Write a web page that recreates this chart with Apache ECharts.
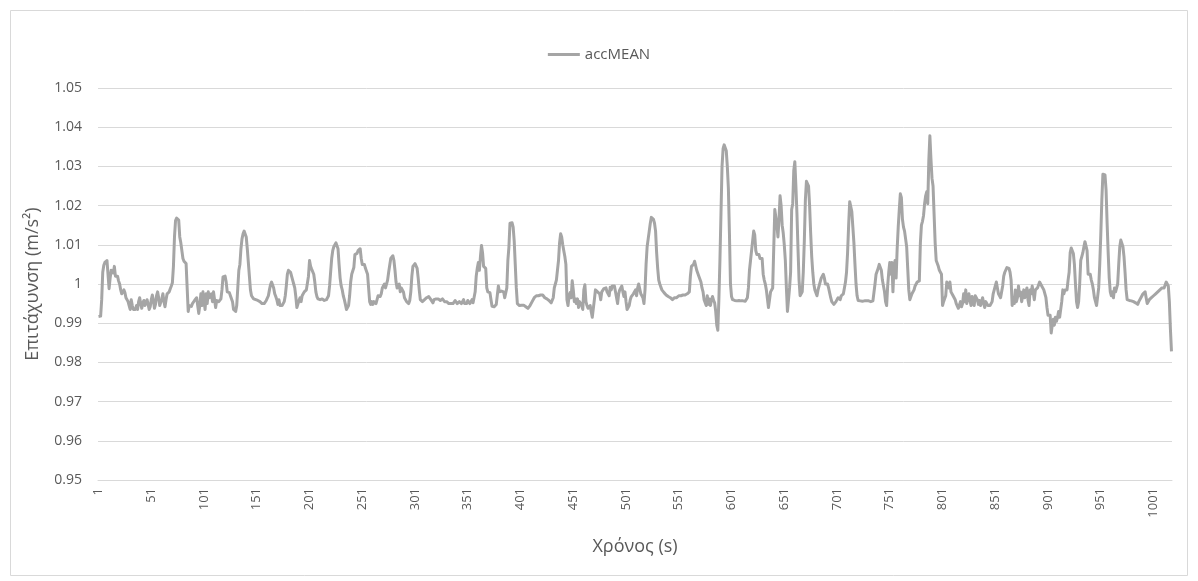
<!DOCTYPE html>
<html>
<head>
<meta charset="utf-8">
<script src="https://cdn.jsdelivr.net/npm/echarts@6/dist/echarts.min.js"></script>
<style>
  html, body { margin: 0; padding: 0; background: #fff; }
  #main { width: 1198px; height: 581px; }
</style>
</head>
<body>
<div id="main"></div>
<script>
// accMEAN per sample (1 .. 1018)
var accMean = [
  0.9917, 0.9916, 0.9918, 0.996, 1.003, 1.0048, 1.0055, 1.0052, 1.006, 1.0065,
  0.9988, 1.0015, 1.0035, 1.004, 1.0028, 1.0045, 1.002, 1.0025, 1.002, 1.0008,
  1.0, 0.9985, 0.9975, 0.9972, 0.9985, 0.9978, 0.9965, 0.9962, 0.9955, 0.9945,
  0.9935, 0.996, 0.9945, 0.9935, 0.9933, 0.9935, 0.9945, 0.9935, 0.9955, 0.9965,
  0.995, 0.9938, 0.9952, 0.9958, 0.9945, 0.9952, 0.996, 0.9948, 0.9935, 0.9942,
  0.996, 0.9972, 0.9958, 0.9938, 0.9948, 0.997, 0.998, 0.9965, 0.9945, 0.9945,
  0.9962, 0.9975, 0.9955, 0.9942, 0.996, 0.9975, 0.997, 0.998, 0.9988, 0.9995,
  1.0003, 1.0045, 1.012, 1.0162, 1.0168, 1.0168, 1.0163, 1.012, 1.0105, 1.0102,
  1.0065, 1.0058, 1.0055, 1.0052, 1.005, 0.993, 0.9945, 0.994, 0.9943, 0.995,
  0.9955, 0.9958, 0.996, 0.9965, 0.997, 0.9925, 0.9945, 0.9975, 0.9945, 0.998,
  0.996, 0.9935, 0.9975, 0.995, 0.998, 0.9965, 0.996, 0.9975, 0.9955, 0.998,
  0.996, 0.994, 0.9958, 0.9962, 0.9955, 0.995, 0.9962, 0.9985, 1.0018, 1.002,
  1.002, 1.0005, 0.998, 0.9975, 0.9978, 0.997, 0.9972, 0.9955, 0.9935, 0.9933,
  0.993, 0.9945, 0.999, 1.0035, 1.005, 1.009, 1.0115, 1.0128, 1.0135, 1.0138,
  1.012, 1.009, 1.0055, 1.002, 0.9985, 0.997, 0.9965, 0.9962, 0.9962, 0.996,
  0.996, 0.9958, 0.9958, 0.9955, 0.9955, 0.995, 0.9948, 0.995, 0.9955, 0.9958,
  0.9962, 0.997, 0.9985, 0.9998, 1.0005, 1.0005, 0.999, 0.9975, 0.9968, 0.996,
  0.9948, 0.996, 0.9945, 0.995, 0.9945, 0.995, 0.9955, 0.997, 0.9995, 1.0025,
  1.0035, 1.0038, 1.003, 1.0025, 1.001, 1.0, 0.999, 0.9968, 0.994, 0.9945,
  0.9958, 0.9965, 0.9955, 0.997, 0.9975, 0.998, 0.9982, 0.9985, 0.999, 1.002,
  1.006, 1.0045, 1.0038, 1.004, 1.0025, 1.0005, 0.998, 0.9968, 0.9962, 0.9962,
  0.996, 0.996, 0.9962, 0.996, 0.9958, 0.996, 0.996, 0.9962, 0.997, 0.9995,
  1.003, 1.0065, 1.0085, 1.0095, 1.01, 1.0105, 1.0106, 1.009, 1.005, 1.0015,
  0.9995, 0.9985, 0.997, 0.996, 0.9948, 0.9935, 0.993, 0.9945, 0.997, 1.0005,
  1.0025, 1.0025, 1.0042, 1.0075, 1.008, 1.0078, 1.0085, 1.0088, 1.009, 1.0065,
  1.005, 1.0045, 1.005, 1.004, 1.0038, 1.0025, 0.999, 0.9955, 0.9948, 0.9955,
  0.9948, 0.9955, 0.9958, 0.995, 0.996, 0.997, 0.9975, 0.9968, 0.9975, 0.999,
  0.9985, 1.0, 0.999, 0.9995, 1.001, 1.003, 1.0048, 1.0065, 1.007, 1.0072,
  1.006, 1.0035, 1.0005, 0.999, 0.9995, 1.0, 0.998, 0.999, 0.9995, 0.998,
  0.9965, 0.996, 0.9955, 0.9952, 0.995, 0.9958, 0.998, 1.002, 1.0045, 1.005,
  1.0052, 1.0048, 1.004, 1.0015, 0.9985, 0.996, 0.9955, 0.9955, 0.9955, 0.996,
  0.9962, 0.9965, 0.9962, 0.9968, 0.9965, 0.996, 0.9955, 0.9952, 0.996, 0.9962,
  0.9962, 0.9965, 0.9962, 0.996, 0.9958, 0.996, 0.9962, 0.996, 0.9955, 0.9952,
  0.9955, 0.9952, 0.995, 0.9945, 0.995, 0.9948, 0.995, 0.9955, 0.9958, 0.9955,
  0.995, 0.995, 0.9955, 0.9958, 0.995, 0.9955, 0.996, 0.995, 0.9955, 0.995,
  0.9958, 0.9955, 0.995, 0.9955, 0.996, 0.9952, 0.9955, 0.998, 1.002, 1.004,
  1.0055, 1.0035, 1.007, 1.0098, 1.008, 1.0045, 1.0042, 1.004, 0.999, 0.998,
  0.9975, 0.9978, 0.996, 0.9943, 0.994, 0.9942, 0.994, 0.9948, 0.9945, 0.9995,
  0.998, 0.9985, 0.9982, 0.9982, 0.998, 0.9965, 0.997, 0.999, 1.006, 1.0095,
  1.0155, 1.0157, 1.0156, 1.0145, 1.011, 1.005, 0.999, 0.995, 0.9945, 0.9945,
  0.9945, 0.9946, 0.9945, 0.9946, 0.9944, 0.9942, 0.9942, 0.9938, 0.994, 0.9945,
  0.995, 0.9955, 0.996, 0.9965, 0.9968, 0.997, 0.9972, 0.997, 0.9972, 0.9972,
  0.997, 0.9972, 0.9968, 0.9965, 0.9962, 0.9962, 0.996, 0.9958, 0.9955, 0.9952,
  0.9955, 0.9965, 0.999, 1.0, 1.001, 1.0035, 1.006, 1.0105, 1.0128, 1.012,
  1.01, 1.0085, 1.007, 1.005, 0.996, 0.9945, 0.997, 0.9978, 0.9965, 1.0008,
  0.9985, 0.9955, 0.9962, 0.995, 0.9962, 0.994, 0.9955, 0.995, 0.9945, 0.9935,
  0.9985, 0.9998, 0.9955, 0.9945, 0.9938, 0.994, 0.9945, 0.993, 0.9915, 0.992,
  0.996, 0.9985, 0.999, 0.998, 0.9985, 0.9975, 0.996, 0.998, 0.998, 0.9988,
  0.9985, 0.999, 0.998, 0.9985, 0.997, 0.9992, 0.9985, 0.9995, 0.999, 0.9995,
  0.998, 0.9985, 0.995, 0.9975, 0.9985, 0.998, 0.9995, 0.998, 0.9968, 0.998,
  0.9955, 0.9935, 0.993, 0.9945, 0.996, 0.9968, 0.9965, 0.9975, 0.9978, 0.9985,
  0.997, 0.999, 1.0, 0.9995, 0.9975, 0.998, 0.9965, 0.995, 0.9985, 1.005,
  1.0095, 1.0115, 1.0135, 1.0155, 1.017, 1.0175, 1.0165, 1.0155, 1.0135, 1.008,
  1.004, 1.001, 1.0, 0.9992, 0.9985, 0.998, 0.9978, 0.9975, 0.9972, 0.997,
  0.9968, 0.9965, 0.9965, 0.9962, 0.996, 0.996, 0.9965, 0.9963, 0.9965, 0.9968,
  0.997, 0.9972, 0.997, 0.9972, 0.9972, 0.9975, 0.9972, 0.9973, 0.9975, 0.9975,
  0.998, 1.002, 1.0045, 1.0048, 1.005, 1.0058, 1.0062, 1.0035, 1.003, 1.002,
  1.0025, 1.0005, 0.999, 0.998, 0.996, 0.9965, 0.9945, 0.997, 0.9948, 0.9962,
  0.9945, 0.996, 0.9968, 0.9958, 0.9952, 0.993, 0.9895, 0.9882, 0.996, 1.006,
  1.018, 1.03, 1.0345, 1.0355, 1.0352, 1.034, 1.03, 1.0245, 1.013, 1.0,
  0.9968, 0.996, 0.9958, 0.9958, 0.9958, 0.9957, 0.9958, 0.9958, 0.9958, 0.9957,
  0.9958, 0.9957, 0.9958, 0.9956, 0.9958, 0.9965, 0.999, 1.0035, 1.006, 1.0085,
  1.011, 1.0135, 1.0125, 1.0085, 1.0075, 1.008, 1.0075, 1.0065, 1.007, 1.0065,
  1.0025, 1.001, 1.0, 0.9985, 0.998, 0.994, 0.996, 0.998, 0.9975, 0.999,
  0.999, 1.019, 1.0185, 1.015, 1.012, 1.0165, 1.0225, 1.02, 1.015, 1.013,
  1.01, 1.006, 0.999, 0.993, 0.9935, 0.999, 1.003, 1.019, 1.0205, 1.029,
  1.0312, 1.025, 1.018, 1.009, 1.001, 0.997, 0.9968, 0.998, 1.003, 1.011,
  1.0215, 1.0262, 1.0265, 1.025, 1.02, 1.013, 1.007, 1.003, 1.0, 0.9985,
  0.998, 0.997, 0.9985, 0.9995, 0.9998, 1.0015, 1.002, 1.0025, 1.0015, 1.0,
  1.0005, 1.0, 0.999, 0.9985, 0.9965, 0.9955, 0.995, 0.9948, 0.9945, 0.9955,
  0.996, 0.9965, 0.9968, 0.996, 0.997, 0.9965, 0.9975, 0.999, 1.0005, 1.003,
  1.008, 1.015, 1.021, 1.0205, 1.0185, 1.0145, 1.0105, 1.005, 1.0, 0.997,
  0.9958, 0.9958, 0.9957, 0.9958, 0.9956, 0.9958, 0.9957, 0.9958, 0.9957, 0.9956,
  0.9957, 0.9956, 0.9955, 0.9956, 0.9957, 0.9955, 1.0, 1.0025, 1.0025, 1.004,
  1.005, 1.0053, 1.0035, 1.001, 1.0015, 0.998, 0.9955, 0.9945, 0.9995, 1.003,
  1.0055, 1.0025, 1.0055, 0.998, 1.0045, 1.006, 1.0015, 1.009, 1.0145, 1.019,
  1.023, 1.022, 1.0165, 1.0145, 1.0135, 1.0115, 1.0095, 1.004, 0.9985, 0.996,
  0.9965, 0.9975, 0.998, 0.9985, 0.9995, 1.0, 1.0005, 1.0005, 1.0008, 1.0105,
  1.015, 1.016, 1.0175, 1.0205, 1.0225, 1.0235, 1.0205, 1.0315, 1.0378, 1.032,
  1.027, 1.025, 1.0245, 1.0105, 1.006, 1.0055, 1.0045, 1.0035, 1.0035, 1.0025,
  0.9945, 0.9955, 0.995, 0.997, 1.0005, 1.0, 0.999, 1.0005, 0.998, 0.998,
  0.997, 0.997, 0.996, 0.995, 0.9955, 0.9938, 0.994, 0.9955, 0.9942, 0.995,
  0.9975, 0.9955, 0.9985, 0.995, 0.9965, 0.9975, 0.9958, 0.9945, 0.9968, 0.9955,
  0.9945, 0.997, 0.9965, 0.996, 0.9948, 0.9958, 0.9945, 0.9955, 0.9965, 0.995,
  0.994, 0.9955, 0.995, 0.9945, 0.995, 0.9945, 0.9943, 0.9955, 0.9975, 0.998,
  0.9995, 1.0005, 0.999, 0.9975, 0.997, 0.9965, 0.997, 0.9995, 1.002, 1.003,
  1.0035, 1.0042, 1.0042, 1.004, 1.003, 1.001, 0.9945, 0.9965, 0.995, 0.9985,
  0.9955, 0.9965, 0.9995, 0.997, 0.998, 0.9955, 0.996, 0.9985, 0.9965, 0.998,
  0.999, 0.996, 0.9945, 0.9985, 0.9975, 0.9995, 0.999, 0.996, 0.9985, 0.9985,
  0.999, 0.9995, 1.0005, 1.0008, 0.9995, 0.999, 0.9985, 0.998, 0.9965, 0.994,
  0.992, 0.9915, 0.992, 0.9875, 0.9895, 0.991, 0.9895, 0.9915, 0.9905, 0.9915,
  0.993, 0.9915, 0.992, 0.9955, 0.9985, 0.9975, 0.9985, 0.998, 0.9985, 1.001,
  1.003, 1.008, 1.0092, 1.009, 1.0078, 1.005, 1.0, 0.9955, 0.994, 0.9955,
  1.0, 1.006, 1.007, 1.008, 1.0095, 1.0108, 1.011, 1.0085, 1.0025, 1.002,
  1.0025, 1.001, 1.0, 0.9985, 0.9965, 0.9955, 0.9945, 0.995, 0.999, 1.005,
  1.0125, 1.0215, 1.028, 1.0285, 1.0278, 1.024, 1.0155, 1.008, 1.0015, 0.998,
  0.997, 0.998, 0.9965, 0.999, 0.998, 0.998, 1.0, 1.005, 1.0095, 1.0112,
  1.011, 1.0095, 1.007, 1.003, 0.9985, 0.996, 0.996, 0.9958, 0.9958, 0.9957,
  0.9956, 0.9955, 0.9955, 0.9952, 0.995, 0.9948, 0.9955, 0.996, 0.9965, 0.997,
  0.9975, 0.9978, 0.998, 0.9965, 0.995, 0.9955, 0.996, 0.9965, 0.9965, 0.997,
  0.997, 0.9972, 0.9975, 0.9975, 0.998, 0.998, 0.9985, 0.999, 0.999, 0.999,
  0.999, 0.9995, 1.0005, 1.0002, 0.9995, 0.9955, 0.9885, 0.9828
];

// sample numbers shown on the x axis: 1, 2, 3 ...
var samples = [];
for (var i = 0; i < accMean.length; i++) {
    samples.push(String(i + 1));
}

var seriesName = 'accMEAN';
var xTitle = 'Χρόνος (s)';
var yTitle = 'Επιτάχυνση (m/s²)';

var textColor = '#595959';
var gridColor = '#d9d9d9';
var lineColor = '#a5a5a5';
var font = 'Open Sans';

var myChart = echarts.init(document.getElementById('main'));
myChart.setOption({
    animation: false,
    backgroundColor: '#fff',
    textStyle: { fontFamily: font },
    graphic: [
        {
            type: 'rect',
            shape: { x: 10.5, y: 10.5, width: 1177, height: 565 },
            style: { fill: 'none', stroke: gridColor, lineWidth: 1 },
            silent: true
        }
    ],
    legend: {
        data: [seriesName],
        top: 42,
        left: 'center',
        icon: 'rect',
        itemWidth: 32,
        itemHeight: 3,
        itemGap: 6,
        textStyle: { color: textColor, fontSize: 15, fontFamily: font }
    },
    grid: {
        left: 98,
        right: 26,
        top: 88,
        bottom: 101
    },
    xAxis: {
        type: 'category',
        data: samples,
        boundaryGap: true,
        name: xTitle,
        nameLocation: 'middle',
        nameGap: 58,
        nameTextStyle: { color: textColor, fontSize: 18, fontFamily: font },
        axisLine: { lineStyle: { color: gridColor } },
        axisTick: { show: false },
        axisLabel: {
            interval: 49,
            rotate: 90,
            color: textColor,
            fontSize: 13,
            margin: 8,
            fontFamily: font
        },
        splitLine: { show: false }
    },
    yAxis: {
        type: 'value',
        min: 0.95,
        max: 1.05,
        interval: 0.01,
        name: yTitle,
        nameLocation: 'middle',
        nameGap: 56,
        nameRotate: 90,
        nameTextStyle: { color: textColor, fontSize: 18, fontFamily: font },
        axisLine: { show: false },
        axisTick: { show: false },
        axisLabel: { color: textColor, fontSize: 14, margin: 16, fontFamily: font },
        splitLine: { lineStyle: { color: gridColor, width: 1 } }
    },
    series: [
        {
            name: seriesName,
            type: 'line',
            data: accMean,
            showSymbol: false,
            symbol: 'none',
            lineStyle: { color: lineColor, width: 3, join: 'round' },
            itemStyle: { color: lineColor }
        }
    ]
});
</script>
</body>
</html>
